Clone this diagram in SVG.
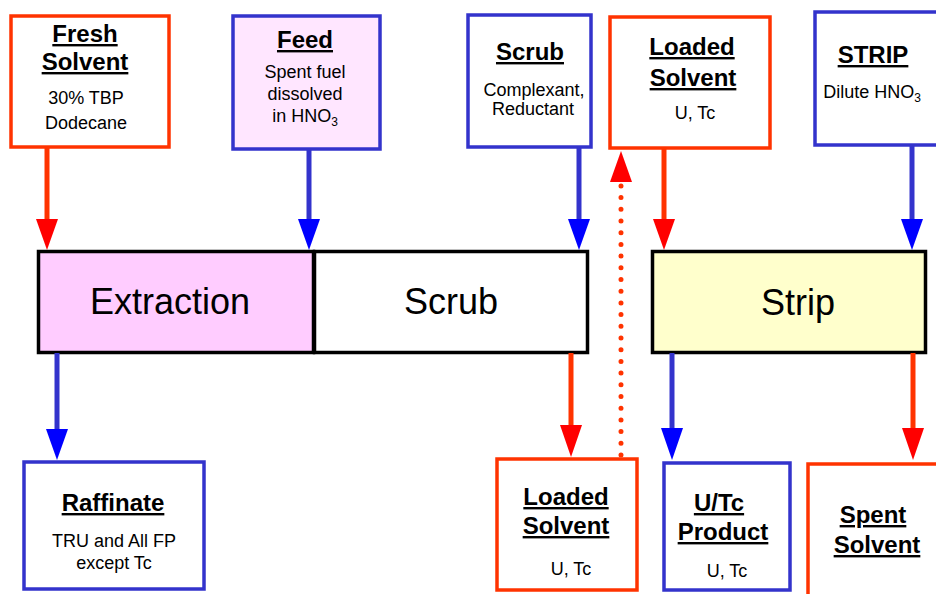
<svg xmlns="http://www.w3.org/2000/svg" width="936" height="594" viewBox="0 0 936 594">
  <style>
    text { font-family: "Liberation Sans", Arial, sans-serif; fill: #000; text-anchor: middle; }
    .title { font-size: 24px; font-weight: bold; text-decoration: underline; }
    .note { font-size: 18px; }
    .stage { font-size: 36px; }
    .red-box { fill: #fff; stroke: #FF3300; stroke-width: 3.5; }
    .blue-box { fill: #fff; stroke: #3333CC; stroke-width: 3.5; }
    .feed-box { fill: #FFE6FF; stroke: #3333CC; stroke-width: 3.5; }
    .proc { stroke: #000; stroke-width: 3.5; }
    .red-line { stroke: #FF3300; stroke-width: 5; fill: none; }
    .blue-line { stroke: #3333CC; stroke-width: 5; fill: none; }
    .red-head { fill: #FF0000; }
    .blue-head { fill: #0000FF; }
    .dotted { stroke: #FF3300; stroke-width: 5; stroke-linecap: round; stroke-dasharray: 0 11.7; fill: none; }
  </style>

  <!-- inlet streams -->
  <g id="fresh-solvent">
    <rect class="red-box" x="11" y="16" width="158" height="131"/>
    <text class="title" x="85" y="42">Fresh</text>
    <text class="title" x="85" y="70">Solvent</text>
    <text class="note" x="86" y="104">30% TBP</text>
    <text class="note" x="86" y="129">Dodecane</text>
  </g>

  <g id="feed">
    <rect class="feed-box" x="233" y="16" width="147" height="133"/>
    <text class="title" x="305" y="48">Feed</text>
    <text class="note" x="305" y="78">Spent fuel</text>
    <text class="note" x="305" y="100">dissolved</text>
    <text class="note" x="305" y="122">in HNO<tspan font-size="12" dy="4">3</tspan></text>
  </g>

  <g id="scrub-feed">
    <rect class="blue-box" x="468" y="15" width="123" height="132"/>
    <text class="title" x="530" y="60">Scrub</text>
    <text class="note" x="534" y="96">Complexant,</text>
    <text class="note" x="533" y="115">Reductant</text>
  </g>

  <g id="loaded-solvent-in">
    <rect class="red-box" x="610" y="17" width="160" height="131"/>
    <text class="title" x="692" y="55">Loaded</text>
    <text class="title" x="693" y="86">Solvent</text>
    <text class="note" x="695" y="119">U, Tc</text>
  </g>

  <g id="strip-feed">
    <rect class="blue-box" x="815" y="12" width="150" height="133"/>
    <text class="title" x="873" y="63">STRIP</text>
    <text class="note" x="872" y="98">Dilute HNO<tspan font-size="12" dy="4">3</tspan></text>
  </g>

  <!-- contactor stages -->
  <g id="extraction">
    <rect class="proc" fill="#FFCCFF" x="38.5" y="251.5" width="275" height="101"/>
    <text class="stage" x="170" y="314">Extraction</text>
  </g>

  <g id="scrub">
    <rect class="proc" fill="#FFFFFF" x="314.5" y="251.5" width="273" height="101"/>
    <text class="stage" x="451" y="314">Scrub</text>
  </g>

  <g id="strip">
    <rect class="proc" fill="#FFFFCC" x="652.5" y="251.5" width="273" height="101"/>
    <text class="stage" x="798" y="315">Strip</text>
  </g>

  <!-- outlet streams -->
  <g id="raffinate">
    <rect class="blue-box" x="24" y="462" width="180" height="127"/>
    <text class="title" x="113" y="511">Raffinate</text>
    <text class="note" x="114" y="547">TRU and All FP</text>
    <text class="note" x="114" y="569">except Tc</text>
  </g>

  <g id="loaded-solvent-out">
    <rect class="red-box" x="497" y="459" width="140" height="131"/>
    <text class="title" x="566" y="505">Loaded</text>
    <text class="title" x="566" y="534">Solvent</text>
    <text class="note" x="571" y="575">U, Tc</text>
  </g>

  <g id="product">
    <rect class="blue-box" x="664" y="463" width="126" height="127"/>
    <text class="title" x="719" y="511">U/Tc</text>
    <text class="title" x="723" y="540">Product</text>
    <text class="note" x="727" y="577">U, Tc</text>
  </g>

  <g id="spent-solvent">
    <rect class="red-box" x="808" y="464" width="150" height="150"/>
    <text class="title" x="873" y="523">Spent</text>
    <text class="title" x="877" y="553">Solvent</text>
  </g>

  <!-- flows -->
  <g id="connectors">
    <line class="red-line" x1="47" y1="148" x2="47" y2="222"/>
    <polygon class="red-head" points="36,219 58,219 47,250"/>

    <line class="blue-line" x1="309" y1="150" x2="309" y2="222"/>
    <polygon class="blue-head" points="298,219 320,219 309,250"/>

    <line class="blue-line" x1="579" y1="148" x2="579" y2="222"/>
    <polygon class="blue-head" points="568,219 590,219 579,250"/>

    <line class="red-line" x1="664" y1="149" x2="664" y2="222"/>
    <polygon class="red-head" points="653,219 675,219 664,250"/>

    <line class="blue-line" x1="912" y1="146" x2="912" y2="222"/>
    <polygon class="blue-head" points="901,219 923,219 912,250"/>

    <line class="dotted" x1="621" y1="455" x2="621" y2="183"/>
    <polygon class="red-head" points="610,182 632,182 621,151"/>

    <line class="blue-line" x1="57" y1="353" x2="57" y2="432"/>
    <polygon class="blue-head" points="46,429 68,429 57,460"/>

    <line class="red-line" x1="571" y1="353" x2="571" y2="428"/>
    <polygon class="red-head" points="560,425 582,425 571,457"/>

    <line class="blue-line" x1="672" y1="353" x2="672" y2="431"/>
    <polygon class="blue-head" points="661,428 683,428 672,460"/>

    <line class="red-line" x1="913" y1="353" x2="913" y2="431"/>
    <polygon class="red-head" points="902,428 924,428 913,460"/>
  </g>
</svg>
